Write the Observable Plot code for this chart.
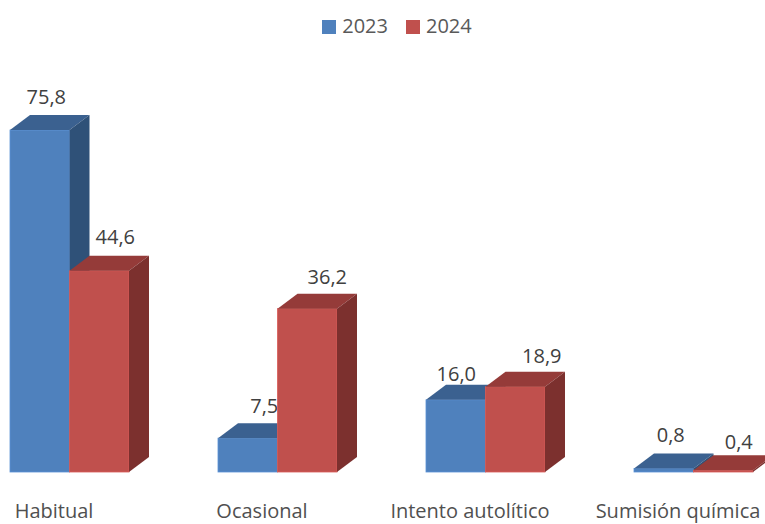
<!DOCTYPE html>
<html><head><meta charset="utf-8">
<script src="https://cdn.jsdelivr.net/npm/d3@7"></script>
<script src="https://cdn.jsdelivr.net/npm/@observablehq/plot@0.6"></script>
<style>
html,body{margin:0;padding:0;background:#fff;overflow:hidden;}
body{font-family:"Open Sans",sans-serif;color:#404040;width:765px;}
#legend{height:45px;display:flex;justify-content:center;align-items:center;gap:18px;padding-left:29px;padding-top:6px;box-sizing:border-box;font-size:20px;color:#595959;line-height:1;}
#legend span.sw{display:inline-block;width:14px;height:14px;margin-right:6px;vertical-align:-1px;}
</style></head>
<body>
<div id="legend"></div>
<div id="chart"></div>
<script>
const categories = ["Habitual", "Ocasional", "Intento autolítico", "Sumisión química"];
const series = ["2023", "2024"];
const values2023 = [75.8, 7.5, 16.0, 0.8];
const values2024 = [44.6, 36.2, 18.9, 0.4];

// styling
const frontColors = {"2023": "#4F81BD", "2024": "#C0504D"};
const topColors = {"2023": "#3B6190", "2024": "#953B39"};
const sideColors = {"2023": "#2F5178", "2024": "#7C302E"};
const depthX = 20, depthY = 15;
// label nudges (pixels) relative to the front-face centre / top, per category: [2023, 2024]
const labelNudgeX = [[6, 15.5], [16, 19.5], [0, 26], [6.5, 15]];
const labelNudgeY = [[-32.5, -33.5], [-32.5, -31.5], [-26, -31], [-33, -28]];

const rows = [];
categories.forEach((c, i) => {
  rows.push({category: c, series: "2023", value: values2023[i], ci: i, si: 0});
  rows.push({category: c, series: "2024", value: values2024[i], ci: i, si: 1});
});
const fmt = v => v.toFixed(1).replace(".", ",");

// legend
const legend = document.getElementById("legend");
series.forEach(s => {
  const d = document.createElement("div");
  d.innerHTML = `<span class="sw" style="background:${frontColors[s]}"></span>${s}`;
  legend.appendChild(d);
});

const barsFor = s => (index, scales) => {
  const {x, y} = scales;
  const bw = x.bandwidth();
  const g = d3.create("svg:g");
  for (const r of rows.filter(r => r.series === s)) {
    const x0 = x(r.category) + (r.si * bw) / 2;
    const x1 = x0 + bw / 2;
    const yt = y(r.value), yb = y(0);
    g.append("rect").attr("x", x0).attr("y", yt).attr("width", x1 - x0).attr("height", yb - yt)
      .attr("fill", frontColors[s]).attr("stroke", d3.color(frontColors[s]).brighter(0.35)).attr("stroke-width", 0.8);
    g.append("polygon").attr("points", [[x0, yt], [x0 + depthX, yt - depthY], [x1 + depthX, yt - depthY], [x1, yt]].join(" "))
      .attr("fill", topColors[s]);
    g.append("polygon").attr("points", [[x1, yt], [x1 + depthX, yt - depthY], [x1 + depthX, yb - depthY], [x1, yb]].join(" "))
      .attr("fill", sideColors[s]);
  }
  return g.node();
};

const halfBar = 119 / 4; // offset from band centre to each half-bar centre
const labelsFor = s => rows.filter(r => r.series === s).map(r => Plot.text([r], {
  x: "category", y: "value", text: d => fmt(d.value),
  dx: (r.si === 0 ? -halfBar : halfBar) + labelNudgeX[r.ci][r.si],
  dy: labelNudgeY[r.ci][r.si],
  fontSize: 20, fill: "#404040"
}));

const chart = Plot.plot({
  width: 765,
  height: 479,
  marginLeft: 0,
  marginRight: 2,
  marginTop: 30,
  marginBottom: 52,
  style: {background: "white", overflow: "visible", fontFamily: "'Open Sans', sans-serif"},
  x: {type: "band", domain: categories, paddingInner: 89 / 208, paddingOuter: 10 / 208, axis: null},
  y: {domain: [0, 88], axis: null},
  marks: [
    barsFor("2023"),
    ...labelsFor("2023"),
    barsFor("2024"),
    ...labelsFor("2024"),
    Plot.text(categories, {x: d => d, y: () => 0, dx: -16, dy: 39, fontSize: 20, fill: "#505050"})
  ]
});
document.getElementById("chart").appendChild(chart);
</script>
</body></html>
